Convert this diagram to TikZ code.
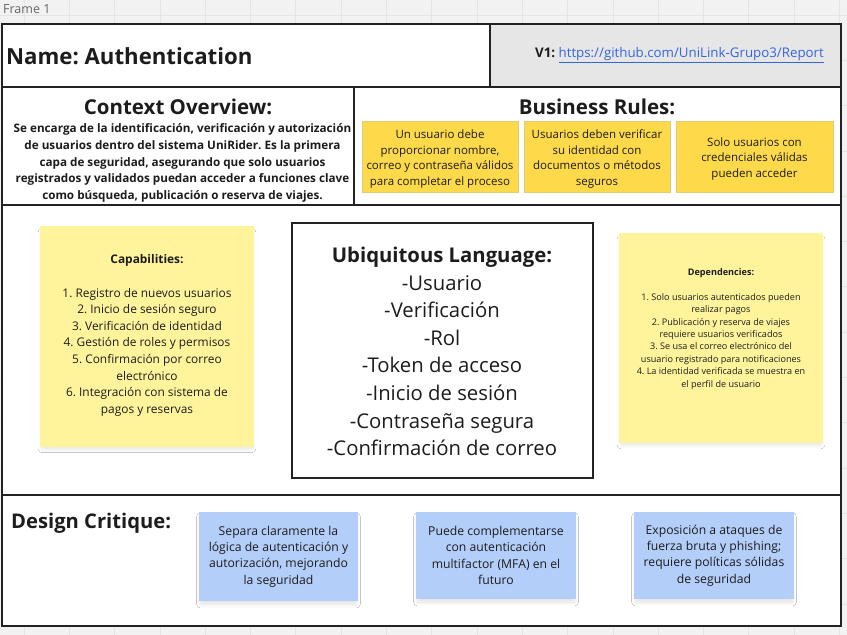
\documentclass[tikz,border=0pt]{standalone}
\usepackage{fontspec}
\setmainfont{Open Sans}
\frenchspacing
\definecolor{canvasgray}{RGB}{242, 242, 242}
\definecolor{gridgray}{RGB}{228, 228, 228}
\definecolor{framedark}{RGB}{34, 34, 34}
\definecolor{headgray}{RGB}{230, 230, 230}
\definecolor{ruleyellow}{RGB}{254, 217, 74}
\definecolor{ruleedge}{RGB}{224, 204, 120}
\definecolor{stickyyellow}{RGB}{255, 244, 155}
\definecolor{stickyblue}{RGB}{180, 206, 250}
\definecolor{linkblue}{RGB}{51, 102, 221}
\definecolor{textdark}{RGB}{28, 28, 28}
\usetikzlibrary{positioning, shadows.blur}

\tikzset{
  cellline/.style={draw=framedark, line width=2pt},
  rulebox/.style={draw=ruleedge, fill=ruleyellow, line width=0.6pt, minimum height=71pt, inner sep=0pt, align=center, text=textdark, font=\fontsize{11.5}{15.6}\selectfont},
  sticky/.style={fill=#1, draw=none, inner sep=0pt, blur shadow={shadow xshift=0pt, shadow yshift=-4pt, shadow scale=0.98, shadow opacity=12, shadow blur steps=8, shadow blur radius=4pt}},
  heading/.style={font=\fontsize{20.5}{24}\selectfont\bfseries, text=textdark, inner sep=0pt}
}

\begin{document}
\begin{tikzpicture}[x=1pt, y=-1pt]
  \useasboundingbox (0,0) rectangle (847,635);

  % Canvas
  \fill[canvasgray] (0,0) rectangle (847,635);
  \foreach \gx in {0,...,18}
    \draw[gridgray, line width=0.8pt] ({24+45.3*\gx},0) -- ({24+45.3*\gx},635);
  \foreach \gy in {0,...,13}
    \draw[gridgray, line width=0.8pt] (0,{15+45.3*\gy}) -- (847,{15+45.3*\gy});
  \node[anchor=west, inner sep=0pt, text=black!60, font=\fontsize{12.5}{15}\selectfont] (framelabel) at (3,9) {Frame 1};

  % Frame and cells
  \fill[white] (2,24) rectangle (841,626);
  \fill[headgray] (490,24) rectangle (841,87);
  \draw[cellline] (2,24) rectangle (841,626);
  \draw[cellline] (2,87) -- (841,87);
  \draw[cellline] (490,24) -- (490,87);
  \draw[cellline] (2,205) -- (841,205);
  \draw[cellline] (354,87) -- (354,205);
  \draw[cellline] (2,495) -- (841,495);

  % Header
  \node[anchor=west, inner sep=0pt, text=textdark, font=\fontsize{22.2}{26}\selectfont\bfseries] (name) at (6,56) {Name: Authentication};
  \node[inner sep=0pt, font=\fontsize{13.3}{15}\selectfont] (version) at (679.5,55) {\textcolor{textdark}{\textbf{V1:}} \textcolor{linkblue}{\underline{https://github.com/UniLink-Grupo3/Report}}};

  % Context overview
  \node[heading] (ctxtitle) at (178,107) {Context Overview:};
  \node[align=center, inner sep=0pt, text=textdark, font=\fontsize{11.7}{16.7}\selectfont\bfseries] (ctxbody) at (182.5,163) {Se encarga de la identificación, verificación y autorización\\de usuarios dentro del sistema UniRider. Es la primera\\capa de seguridad, asegurando que solo usuarios\\registrados y validados puedan acceder a funciones clave\\como búsqueda, publicación o reserva de viajes.};

  % Business rules
  \node[heading] (brtitle) at (597,107) {Business Rules:};
  \node[rulebox, minimum width=156pt] (rule1) at (440,156.5) {\\[-2pt]Un usuario debe\\proporcionar nombre,\\correo y contraseña válidos\\para completar el proceso};
  \node[rulebox, minimum width=146pt] (rule2) at (597,156.5) {\\[-2pt]Usuarios deben verificar\\su identidad con\\documentos o métodos\\seguros};
  \node[rulebox, minimum width=157pt] (rule3) at (754.5,156.5) {\\[-2pt]Solo usuarios con\\credenciales válidas\\pueden acceder};

  % Capabilities
  \node[sticky=stickyyellow, minimum width=214pt, minimum height=221pt] (capnote) at (147,336.5) {};
  \node[align=center, inner sep=0pt, text=textdark, font=\fontsize{11.9}{16.6}\selectfont] (captext) at (147,335.5) {\textbf{Capabilities:}\\[16.6pt]1. Registro de nuevos usuarios\\2. Inicio de sesión seguro\\3. Verificación de identidad\\4. Gestión de roles y permisos\\5. Confirmación por correo\\electrónico\\6. Integración con sistema de\\pagos y reservas};

  % Ubiquitous language
  \node[draw=framedark, line width=1.6pt, fill=white, minimum width=301pt, minimum height=255pt, inner sep=0pt] (ubibox) at (442.5,350.5) {};
  \node[align=center, inner sep=0pt, text=textdark, font=\fontsize{20.3}{27.6}\selectfont] (ubitext) at (442,351.5) {\textbf{Ubiquitous Language:}\\-Usuario\\-Verificación\\-Rol\\-Token de acceso\\-Inicio de sesión\\-Contraseña segura\\-Confirmación de correo};

  % Dependencies
  \node[sticky=stickyyellow, minimum width=204pt, minimum height=210pt] (depnote) at (721,338) {};
  \node[align=center, inner sep=0pt, text=textdark, font=\fontsize{9.1}{12.4}\selectfont] (deptext) at (721,329) {\textbf{Dependencies:}\\[12.4pt]1. Solo usuarios autenticados pueden\\realizar pagos\\2. Publicación y reserva de viajes\\requiere usuarios verificados\\3. Se usa el correo electrónico del\\usuario registrado para notificaciones\\4. La identidad verificada se muestra en\\el perfil de usuario};

  % Design critique
  \node[anchor=west, inner sep=0pt, text=textdark, font=\fontsize{20.2}{24}\selectfont\bfseries] (dctitle) at (11,523) {Design Critique:};
  \node[sticky=stickyblue, minimum width=159pt, minimum height=89pt, align=center, text=textdark, font=\fontsize{12.2}{16.4}\selectfont] (crit1) at (278.5,556.5) {Separa claramente la\\lógica de autenticación y\\autorización, mejorando\\la seguridad};
  \node[sticky=stickyblue, minimum width=160pt, minimum height=87pt, align=center, text=textdark, font=\fontsize{12.2}{16.4}\selectfont] (crit2) at (496,555.5) {Puede complementarse\\con autenticación\\multifactor (MFA) en el\\futuro};
  \node[sticky=stickyblue, minimum width=160pt, minimum height=87pt, align=center, text=textdark, font=\fontsize{12.2}{16.4}\selectfont] (crit3) at (714,555.5) {Exposición a ataques de\\fuerza bruta y phishing;\\requiere políticas sólidas\\de seguridad};
\end{tikzpicture}
\end{document}
